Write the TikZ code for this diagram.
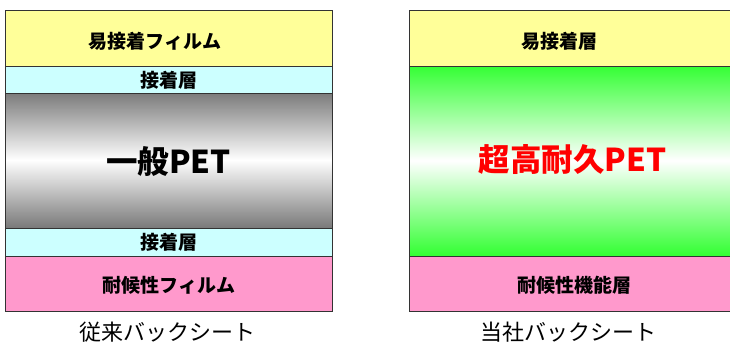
\documentclass[tikz,border=0pt]{standalone}
\usepackage{fontspec}
\newfontfamily\jp{Noto Sans CJK JP}
\definecolor{cyellow}{HTML}{FFFF99}
\definecolor{ccyan}{HTML}{CCFFFF}
\definecolor{cpink}{HTML}{FF99CC}
\definecolor{cgreen}{HTML}{33FF33}
\definecolor{cgray}{HTML}{7A7A7A}
\definecolor{cline}{HTML}{333333}
\begin{document}
\begin{tikzpicture}[x=1pt,y=1pt,
  layer/.style={draw=cline, line width=1pt, rectangle, inner sep=0pt, minimum width=326.5pt},
  lbl/.style={font=\jp\bfseries\fontsize{19}{22}\selectfont, text=black, inner sep=0pt},
  big/.style={font=\jp\bfseries\fontsize{31.5}{36}\selectfont, inner sep=0pt},
  captext/.style={font=\jp\fontsize{22}{26}\selectfont, inner sep=0pt}]
\useasboundingbox (0,0) rectangle (730,349);
\clip (0,0) rectangle (730,349);
% left stack
\node[layer, fill=cyellow, minimum height=55pt] (ly) at (168.75,310.5) {};
\node[layer, fill=ccyan, minimum height=27pt] (lc1) at (168.75,269.5) {};
\foreach \i in {0,...,134}{
  \pgfmathsetmacro{\yy}{121+\i}
  \pgfmathsetmacro{\p}{100*abs(\yy+0.5-188.5)/67.5}
  \fill[cgray!\p!white] (5.5,\yy) rectangle (332,\yy+1.3);
}
\node[layer, minimum height=135pt] (lg) at (168.75,188.5) {};
\node[layer, fill=ccyan, minimum height=28pt] (lc2) at (168.75,107) {};
\node[layer, fill=cpink, minimum height=55pt] (lp) at (168.75,65.5) {};
\node[lbl] (t1) at (155,308) {易接着フィルム};
\node[lbl] (t2) at (168.5,269) {接着層};
\node[big] (t3) at (168.5,187) {一般PET};
\node[lbl] (t4) at (168.5,107) {接着層};
\node[lbl] (t5) at (169,64) {耐候性フィルム};
\node[captext] (c1) at (167,17) {従来バックシート};
% right stack
\node[layer, fill=cyellow, minimum height=55pt] (ry) at (573,310.5) {};
\foreach \i in {0,...,189}{
  \pgfmathsetmacro{\yy}{93+\i}
  \pgfmathsetmacro{\p}{100*abs(\yy+0.5-188)/95}
  \fill[cgreen!\p!white] (409.75,\yy) rectangle (736.25,\yy+1.3);
}
\node[layer, minimum height=190pt] (rg) at (573,188) {};
\node[layer, fill=cpink, minimum height=55pt] (rp) at (573,65.5) {};
\node[lbl] (u1) at (559.5,308) {易接着層};
\node[big, text=red] (u2) at (572.5,189) {超高耐久PET};
\node[lbl] (u3) at (574.5,64) {耐候性機能層};
\node[captext] (c2) at (568,17) {当社バックシート};
\end{tikzpicture}
\end{document}
